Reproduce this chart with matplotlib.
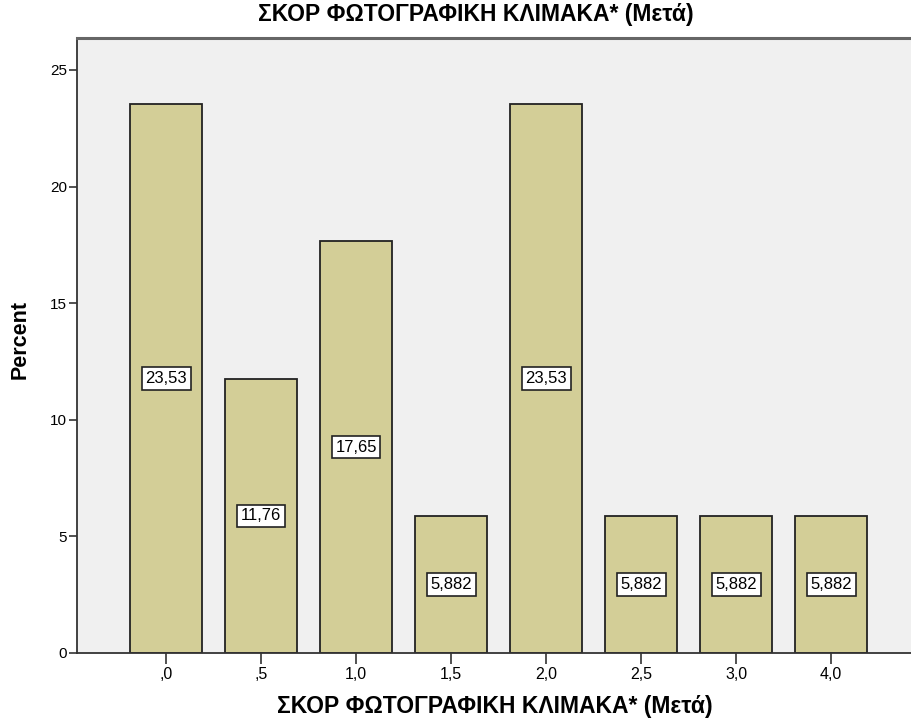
import matplotlib.pyplot as plt
import numpy as np

plt.rcParams['font.family'] = ['Liberation Sans', 'DejaVu Sans']

categories = [',0', ',5', '1,0', '1,5', '2,0', '2,5', '3,0', '4,0']
percent = [23.53, 11.76, 17.65, 5.882, 23.53, 5.882, 5.882, 5.882]
bar_labels = ['23,53', '11,76', '17,65', '5,882', '23,53', '5,882', '5,882', '5,882']
title = 'ΣΚΟΡ ΦΩΤΟΓΡΑΦΙΚΗ ΚΛΙΜΑΚΑ* (Μετά)'

W, H = 911, 722
fig = plt.figure(figsize=(W / 100, H / 100), dpi=100)
ax = fig.add_axes([77 / W, 69 / H, 1 - 77 / W, (653 - 38) / H])
ax.set_facecolor('#F0F0F0')

x = np.arange(len(categories))
ax.bar(x, percent, width=0.76, color='#D3CE97', edgecolor='#222222', linewidth=1.3, zorder=2)

for xi, val, lab in zip(x, percent, bar_labels):
    ax.text(xi, val / 2, lab, ha='center', va='center', fontsize=12, zorder=3,
            bbox=dict(boxstyle='square,pad=0.22', facecolor='white', edgecolor='#222222', linewidth=1.2))

ax.set_xlim(-0.937, 7.84)
ax.set_ylim(0, 26.37)
ax.set_xticks(x)
ax.set_xticklabels(categories, fontsize=11.5)
ax.set_yticks([0, 5, 10, 15, 20, 25])
ax.tick_params(axis='x', length=8, width=1.2, color='#333333', pad=2)
ax.tick_params(axis='y', length=6, width=1.2, color='#333333', pad=1, labelsize=11)

ax.spines['right'].set_visible(False)
ax.spines['top'].set_color('#666666')
ax.spines['top'].set_linewidth(2.2)
ax.spines['left'].set_color('#333333')
ax.spines['left'].set_linewidth(1.3)
ax.spines['bottom'].set_color('#333333')
ax.spines['bottom'].set_linewidth(1.3)

# titles placed in figure pixels, as in the SPSS output
fig.text(476 / W, 1 - 15 / H, title, ha='center', va='center', fontsize=16.5, fontweight='bold')
fig.text(495 / W, 1 - 706 / H, title, ha='center', va='center', fontsize=16.5, fontweight='bold')
fig.text(20 / W, 1 - 340 / H, 'Percent', ha='center', va='center', rotation=90,
         fontsize=15.5, fontweight='bold')

fig.savefig('out.png', dpi=100)
